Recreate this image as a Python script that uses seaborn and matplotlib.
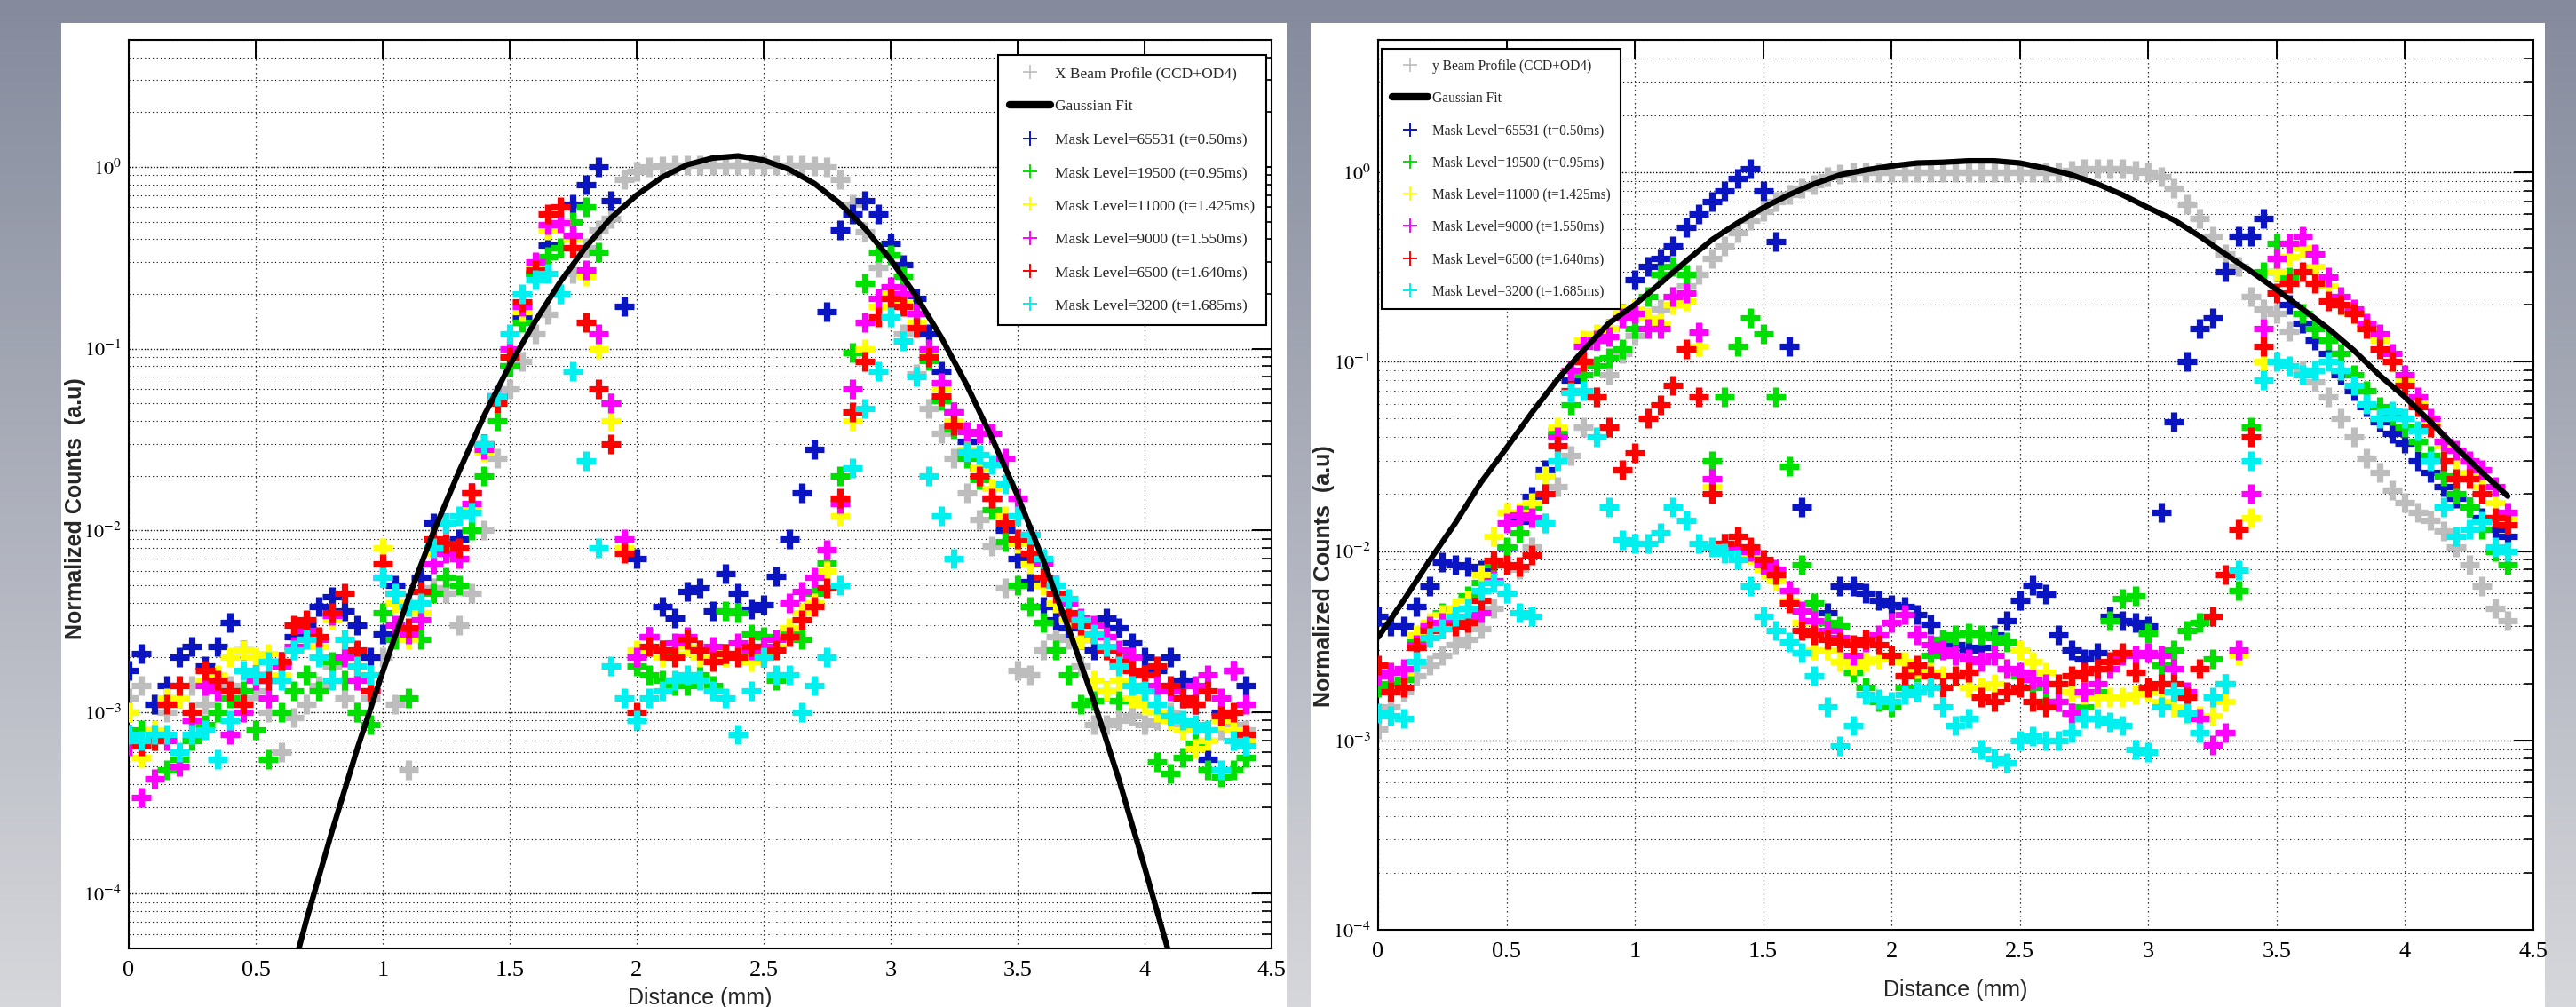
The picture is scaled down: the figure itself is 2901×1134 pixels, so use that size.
import numpy as np
import matplotlib
matplotlib.use("Agg")
import matplotlib.pyplot as plt
from matplotlib.lines import Line2D
from matplotlib.patches import Rectangle
from matplotlib.ticker import LogLocator, FuncFormatter, NullFormatter
import seaborn as sns

nan = np.nan

# ──────────────────────────────────────────────────
# DATA
# ──────────────────────────────────────────────────
distance_mm = [0.0, 0.05, 0.1, 0.15, 0.2, 0.25, 0.3, 0.35, 0.4, 0.45,
               0.5, 0.55, 0.6, 0.65, 0.7, 0.75, 0.8, 0.85, 0.9, 0.95,
               1.0, 1.05, 1.1, 1.15, 1.2, 1.25, 1.3, 1.35, 1.4, 1.45,
               1.5, 1.55, 1.6, 1.65, 1.7, 1.75, 1.8, 1.85, 1.9, 1.95,
               2.0, 2.05, 2.1, 2.15, 2.2, 2.25, 2.3, 2.35, 2.4, 2.45,
               2.5, 2.55, 2.6, 2.65, 2.7, 2.75, 2.8, 2.85, 2.9, 2.95,
               3.0, 3.05, 3.1, 3.15, 3.2, 3.25, 3.3, 3.35, 3.4, 3.45,
               3.5, 3.55, 3.6, 3.65, 3.7, 3.75, 3.8, 3.85, 3.9, 3.95,
               4.0, 4.05, 4.1, 4.15, 4.2, 4.25, 4.3, 4.35, 4.4]

series_labels = ["Mask Level=65531 (t=0.50ms)", "Mask Level=19500 (t=0.95ms)",
                 "Mask Level=11000 (t=1.425ms)", "Mask Level=9000 (t=1.550ms)",
                 "Mask Level=6500 (t=1.640ms)", "Mask Level=3200 (t=1.685ms)"]

x_ticks = [0, 0.5, 1, 1.5, 2, 2.5, 3, 3.5, 4, 4.5]
x_tick_labels = ["0", "0.5", "1", "1.5", "2", "2.5", "3", "3.5", "4", "4.5"]

# --- X profile (left) ---
x_gray = [1.2e-3, 1.4e-3, 1.1e-3, 1.0e-3, 1.2e-3, 1.4e-3, 1.1e-3, 1.3e-3, 1.4e-3, 1.2e-3,
          1.3e-3, 1.0e-3, 6.0e-4, 9.3e-4, 1.1e-3, 1.4e-3, 1.8e-3, 1.2e-3, 1.0e-3, 1.2e-3,
          2.0e-3, 1.1e-3, 4.8e-4, 3.5e-3, 4.8e-3, 4.5e-3, 3.0e-3, 4.5e-3, 1.0e-2, 2.5e-2,
          0.06, 0.085, 0.12, 0.155, 0.2, 0.26, 0.36, 0.45, 0.52, 0.85,
          0.95, 1.0, 1.01, 1.02, 1.02, 1.02, 1.02, 1.02, 1.02, 1.02,
          1.02, 1.02, 1.02, 1.02, 1.01, 1.0, 0.85, 0.62, 0.44, 0.28,
          0.17, 0.12, 0.073, 0.047, 0.034, 0.025, 0.016, 0.0115, 8.2e-3, 4.8e-3,
          1.7e-3, 1.6e-3, 2.2e-3, 2.6e-3, 2.5e-3, 1.8e-3, 8.5e-4, 8.5e-4, 9.0e-4, 9.5e-4,
          8.5e-4, 9.0e-4, 1.0e-3, 8.5e-4, 8.0e-4, 7.0e-4, 8.0e-4, 8.5e-4, 8.0e-4]
x_blue = [1.7e-3, 2.1e-3, 1.1e-3, 1.4e-3, 2.0e-3, 2.3e-3, 1.8e-3, 2.3e-3, 3.1e-3, 2.2e-3,
          1.6e-3, 1.5e-3, 1.9e-3, 2.6e-3, 3.0e-3, 3.8e-3, 4.3e-3, 3.6e-3, 3.0e-3, 2.0e-3,
          2.7e-3, 5.0e-3, 4.0e-3, 5.5e-3, 1.1e-2, 1.1e-2, 9.0e-3, 1.6e-2, 3.0e-2, 5.5e-2,
          0.08, 0.15, 0.26, 0.37, 0.5, 0.62, 0.8, 1.0, 0.65, 0.17,
          7.0e-3, 2.6e-3, 3.8e-3, 3.3e-3, 4.6e-3, 4.8e-3, 3.6e-3, 5.8e-3, 4.5e-3, 3.7e-3,
          3.9e-3, 5.6e-3, 9.0e-3, 1.6e-2, 2.8e-2, 0.16, 0.45, 0.55, 0.65, 0.55,
          0.38, 0.29, 0.19, 0.12, 0.075, 0.045, 0.031, 0.022, 0.015, 0.010,
          7.0e-3, 5.2e-3, 3.8e-3, 3.2e-3, 2.9e-3, 2.5e-3, 2.2e-3, 3.3e-3, 2.9e-3, 2.4e-3,
          2.0e-3, 1.7e-3, 2.0e-3, 1.5e-3, 1.1e-3, 5.5e-4, 1.0e-3, 1.7e-3, 1.4e-3]
x_green = [1.0e-3, 8.0e-4, 7.0e-4, 4.8e-4, 5.5e-4, 7.0e-4, 8.5e-4, 1.0e-3, 1.2e-3, 1.3e-3,
           8.0e-4, 5.5e-4, 1.0e-3, 1.3e-3, 1.6e-3, 1.3e-3, 1.9e-3, 1.5e-3, 1.0e-3, 8.5e-4,
           3.5e-3, 2.5e-3, 1.2e-3, 2.5e-3, 4.5e-3, 5.5e-3, 5.0e-3, 1.0e-2, 2.0e-2, 4.0e-2,
           8.0e-2, 0.14, 0.26, 0.32, 0.36, 0.5, 0.6, 0.34, 0.05, nan,
           1.8e-3, 1.6e-3, 1.5e-3, 1.4e-3, 1.4e-3, 1.6e-3, 1.4e-3, 3.6e-3, 3.5e-3, 2.7e-3,
           2.6e-3, 1.5e-3, 2.8e-3, 2.5e-3, 4.5e-3, 6.6e-3, 2.0e-2, 9.5e-2, 0.23, 0.34,
           0.33, 0.25, 0.156, 0.086, 0.052, 0.036, 0.025, 0.019, 0.013, 8.7e-3,
           5.0e-3, 3.8e-3, 3.1e-3, 2.2e-3, 1.6e-3, 1.1e-3, 1.15e-3, 1.3e-3, 1.15e-3, 1.4e-3,
           1.3e-3, 5.3e-4, 4.6e-4, 5.6e-4, 6.7e-4, 4.8e-4, 4.4e-4, 4.8e-4, 5.6e-4]
x_yellow = [1.0e-3, 5.6e-4, 8.0e-4, 1.2e-3, 1.2e-3, 1.0e-3, 1.5e-3, 1.6e-3, 2.0e-3, 2.2e-3,
            2.0e-3, 2.1e-3, 1.6e-3, 2.2e-3, 2.5e-3, 2.3e-3, 3.2e-3, 2.5e-3, 1.8e-3, 1.6e-3,
            8.0e-3, 4.0e-3, 2.5e-3, 3.5e-3, 7.5e-3, 8.0e-3, 7.0e-3, 1.3e-2, 2.7e-2, 5.0e-2,
            0.09, 0.16, 0.28, 0.45, 0.5, 0.4, 0.25, 0.1, 0.04, 8.0e-3,
            2.2e-3, 2.3e-3, 2.0e-3, 2.1e-3, 2.3e-3, 2.0e-3, 2.2e-3, 2.0e-3, 2.1e-3, 1.9e-3,
            2.1e-3, 2.3e-3, 2.9e-3, 3.5e-3, 4.0e-3, 6.0e-3, 1.2e-2, 4.0e-2, 0.1, 0.17,
            0.2, 0.18, 0.14, 0.095, 0.06, 0.04, 0.028, 0.022, 0.017, 0.012,
            8.5e-3, 6.5e-3, 5.0e-3, 4.0e-3, 3.2e-3, 2.5e-3, 1.5e-3, 1.3e-3, 1.5e-3, 1.2e-3,
            1.1e-3, 1.0e-3, 9.0e-4, 8.0e-4, 6.3e-4, 7.0e-4, 9.0e-4, 8.0e-4, 7.0e-4]
x_magenta = [6.5e-4, 3.4e-4, 4.3e-4, 7.0e-4, 5.0e-4, 9.0e-4, 1.4e-3, 1.3e-3, 7.5e-4, 1.0e-3,
             1.5e-3, 1.2e-3, 1.8e-3, 2.3e-3, 2.8e-3, 2.5e-3, 3.4e-3, 2.0e-3, 1.5e-3, 1.3e-3,
             5.5e-3, 3.0e-3, 2.7e-3, 3.2e-3, 6.5e-3, 7.5e-3, 7.0e-3, 1.4e-2, 2.8e-2, 5.5e-2,
             0.1, 0.17, 0.3, 0.48, 0.49, 0.42, 0.27, 0.12, 0.05, 9.0e-3,
             2.0e-3, 2.6e-3, 2.2e-3, 2.4e-3, 2.6e-3, 2.2e-3, 2.3e-3, 2.1e-3, 2.4e-3, 2.2e-3,
             2.3e-3, 2.5e-3, 4.0e-3, 4.6e-3, 5.5e-3, 7.8e-3, 1.4e-2, 6.0e-2, 0.14, 0.19,
             0.22, 0.2, 0.156, 0.1, 0.065, 0.045, 0.035, 0.034, 0.034, 0.025,
             0.015, 9.5e-3, 6.6e-3, 5.0e-3, 4.0e-3, 3.3e-3, 3.0e-3, 2.6e-3, 2.2e-3, 2.0e-3,
             1.6e-3, 1.4e-3, 1.3e-3, 1.2e-3, 1.4e-3, 1.6e-3, 1.2e-3, 1.7e-3, 1.1e-3]
x_red = [7.5e-4, 6.5e-4, 7.0e-4, 1.1e-3, 1.4e-3, 1.0e-3, 1.7e-3, 1.5e-3, 1.3e-3, 1.1e-3,
         1.6e-3, 1.5e-3, 1.9e-3, 3.0e-3, 3.2e-3, 2.6e-3, 3.5e-3, 4.5e-3, 2.2e-3, 1.3e-3,
         6.5e-3, 4.5e-3, 2.9e-3, 4.6e-3, 9.0e-3, 8.5e-3, 8.0e-3, 1.6e-2, 3.0e-2, 5.0e-2,
         0.09, 0.18, 0.27, 0.55, 0.6, 0.36, 0.14, 0.06, 0.03, 7.5e-3,
         1.0e-3, 2.3e-3, 2.2e-3, 2.0e-3, 2.5e-3, 2.2e-3, 1.9e-3, 2.1e-3, 2.0e-3, 2.3e-3,
         2.0e-3, 2.2e-3, 2.6e-3, 3.2e-3, 3.8e-3, 4.8e-3, 1.5e-2, 4.5e-2, 8.5e-2, 0.15,
         0.19, 0.17, 0.13, 0.09, 0.055, 0.038, 0.027, 0.02, 0.015, 0.011,
         9.0e-3, 7.5e-3, 5.5e-3, 4.5e-3, 3.5e-3, 3.0e-3, 2.7e-3, 2.2e-3, 1.9e-3, 1.7e-3,
         1.6e-3, 1.8e-3, 1.4e-3, 1.2e-3, 1.1e-3, 1.3e-3, 9.5e-4, 1.0e-3, 7.5e-4]
x_cyan = [7.5e-4, 7.0e-4, 7.5e-4, 7.5e-4, 6.0e-4, 7.5e-4, 8.0e-4, 5.5e-4, 9.0e-4, 1.7e-3,
          1.6e-3, 1.9e-3, 1.5e-3, 2.2e-3, 2.5e-3, 2.0e-3, 1.5e-3, 2.5e-3, 1.8e-3, 1.6e-3,
          5.5e-3, 4.5e-3, 3.8e-3, 4.0e-3, 8.0e-3, 1.1e-2, 1.2e-2, 1.25e-2, 3.0e-2, 5.5e-2,
          0.12, 0.2, 0.24, 0.26, 0.2, 0.075, 0.024, 8.0e-3, 1.8e-3, 1.2e-3,
          9.0e-4, 1.2e-3, 1.3e-3, 1.5e-3, 1.6e-3, 1.5e-3, 1.3e-3, 1.2e-3, 7.5e-4, 1.3e-3,
          2.0e-3, 1.6e-3, 1.6e-3, 1.0e-3, 1.4e-3, 2.0e-3, 5.0e-3, 2.2e-2, 4.7e-2, 7.5e-2,
          0.15, 0.11, 0.07, 0.02, 0.012, 7.0e-3, 0.027, 0.026, 0.023, 0.018,
          0.012, 9.5e-3, 7.0e-3, 5.0e-3, 4.2e-3, 3.2e-3, 2.7e-3, 2.3e-3, 1.8e-3, 1.4e-3,
          1.3e-3, 1.1e-3, 9.5e-4, 9.0e-4, 8.5e-4, 8.0e-4, 4.8e-4, 7.0e-4, 6.5e-4]

x_fit_pos = [0.67, 0.7, 0.8, 0.9, 1.0, 1.1, 1.2, 1.3, 1.4, 1.5,
             1.6, 1.7, 1.8, 1.9, 2.0, 2.1, 2.2, 2.3, 2.4, 2.5,
             2.6, 2.7, 2.8, 2.9, 3.0, 3.1, 3.2, 3.3, 3.4, 3.5,
             3.6, 3.7, 3.8, 3.9, 4.0, 4.1]
x_fit = [5.0e-5, 7.2e-5, 2.2e-4, 6.3e-4, 1.66e-3, 4.2e-3, 9.8e-3, 0.021, 0.043, 0.081,
         0.141, 0.234, 0.363, 0.525, 0.70, 0.877, 1.03, 1.12, 1.15, 1.09,
         0.97, 0.81, 0.63, 0.457, 0.309, 0.195, 0.115, 0.063, 0.032, 0.0155,
         6.9e-3, 2.9e-3, 1.15e-3, 4.2e-4, 1.4e-4, 4.5e-5]

# --- y profile (right) ---
y_gray = [1.15e-3, 1.5e-3, 1.8e-3, 2.2e-3, 2.5e-3, 2.8e-3, 3.2e-3, 3.4e-3, 3.9e-3, 5.0e-3,
          6.0e-3, 8.0e-3, 1.05e-2, 1.4e-2, 2.2e-2, 3.2e-2, 4.5e-2, 6.5e-2, 8.5e-2, 0.11,
          0.137, 0.17, 0.19, 0.22, 0.25, 0.29, 0.35, 0.41, 0.48, 0.56,
          0.62, 0.7, 0.76, 0.82, 0.86, 0.95, 0.98, 1.0, 1.0, 1.0,
          1.0, 1.0, 1.0, 1.0, 1.0, 1.0, 1.0, 1.0, 1.0, 1.0,
          1.0, 1.0, 1.0, 1.0, 1.02, 1.04, 1.05, 1.05, 1.05, 1.02,
          1.0, 0.95, 0.82, 0.68, 0.57, 0.46, 0.37, 0.32, 0.22, 0.19,
          0.18, 0.145, 0.09, 0.078, 0.065, 0.05, 0.04, 0.031, 0.026, 0.021,
          0.018, 0.016, 0.0145, 0.0128, 0.0105, 8.5e-3, 6.5e-3, 5.0e-3, 4.3e-3]
y_blue = [4.5e-3, 4.0e-3, 4.0e-3, 5.1e-3, 6.5e-3, 8.7e-3, 8.5e-3, 8.3e-3, 7.9e-3, 8.5e-3,
          1.04e-2, 1.44e-2, 1.95e-2, 2.7e-2, 4.1e-2, 8.0e-2, 0.1, 0.13, 0.15, 0.18,
          0.27, 0.32, 0.35, 0.41, 0.51, 0.6, 0.7, 0.8, 0.93, 1.04,
          0.8, 0.43, 0.12, 0.017, nan, 4.7e-3, 6.5e-3, 6.5e-3, 6.0e-3, 5.5e-3,
          5.2e-3, 5.1e-3, 4.6e-3, 4.1e-3, 3.4e-3, 3.2e-3, 3.0e-3, 3.1e-3, 3.6e-3, 4.3e-3,
          5.5e-3, 6.6e-3, 5.9e-3, 3.6e-3, 3.0e-3, 2.7e-3, 2.9e-3, 4.5e-3, 4.3e-3, 4.2e-3,
          4.0e-3, 1.6e-2, 4.8e-2, 0.1, 0.15, 0.17, 0.3, 0.46, 0.46, 0.57,
          0.3, 0.2, 0.16, 0.13, 0.11, 0.085, 0.07, 0.058, 0.048, 0.042,
          0.037, 0.03, 0.026, 0.022, 0.019, 0.017, 0.015, 0.013, 0.012]
y_green = [1.9e-3, 2.0e-3, 2.1e-3, 3.3e-3, 3.9e-3, 4.7e-3, 5.0e-3, 5.8e-3, 6.8e-3, 8.5e-3,
           1.05e-2, 1.25e-2, 1.7e-2, 2.5e-2, 4.3e-2, 5.9e-2, 8.5e-2, 9.5e-2, 0.105, 0.117,
           0.15, 0.22, 0.29, 0.32, 0.29, nan, 0.03, 0.065, 0.12, 0.17,
           0.14, 0.065, 0.028, 8.5e-3, 5.3e-3, 4.2e-3, 4.0e-3, 2.3e-3, 1.9e-3, 1.6e-3,
           1.5e-3, 1.9e-3, 2.3e-3, 2.8e-3, 3.4e-3, 3.6e-3, 3.7e-3, 3.6e-3, 3.5e-3, 3.3e-3,
           2.2e-3, 1.9e-3, 1.6e-3, 1.6e-3, 1.4e-3, 1.5e-3, 1.8e-3, 4.3e-3, 5.6e-3, 5.8e-3,
           3.7e-3, 2.5e-3, 3.0e-3, 3.8e-3, 4.2e-3, 2.7e-3, 2.0e-3, 6.2e-3, 4.5e-2, 0.3,
           0.42, 0.28, 0.18, 0.15, 0.13, 0.11, 0.085, 0.07, 0.058, 0.052,
           0.045, 0.038, 0.032, 0.025, 0.02, 0.017, 0.013, 0.01, 8.5e-3]
y_yellow = [2.4e-3, 2.3e-3, 2.3e-3, 3.6e-3, 4.2e-3, 4.6e-3, 5.0e-3, 5.5e-3, 7.5e-3, 1.2e-2,
            1.6e-2, 1.6e-2, 1.8e-2, 2.5e-2, 4.5e-2, 9.0e-2, 0.13, 0.14, 0.15, 0.18,
            0.19, 0.17, 0.16, 0.2, 0.21, 0.12, 0.022, 0.011, 0.01, 9.5e-3,
            8.0e-3, 7.0e-3, 5.5e-3, 4.2e-3, 3.0e-3, 3.0e-3, 2.6e-3, 2.5e-3, 2.6e-3, 2.7e-3,
            2.8e-3, 2.6e-3, 2.4e-3, 2.3e-3, 2.2e-3, 2.2e-3, 1.9e-3, 1.9e-3, 2.0e-3, 2.4e-3,
            3.0e-3, 2.6e-3, 2.3e-3, 2.0e-3, 1.8e-3, 1.75e-3, 1.7e-3, 1.7e-3, 1.7e-3, 1.75e-3,
            1.8e-3, 1.6e-3, 1.5e-3, 1.4e-3, 1.35e-3, 1.35e-3, 1.6e-3, 2.8e-3, 1.5e-2, 0.1,
            0.3, 0.36, 0.4, 0.32, 0.25, 0.2, 0.18, 0.15, 0.13, 0.1,
            0.08, 0.062, 0.048, 0.036, 0.03, 0.026, 0.022, 0.018, 0.015]
y_magenta = [2.2e-3, 2.3e-3, 2.4e-3, 3.2e-3, 4.0e-3, 4.2e-3, 4.3e-3, 4.5e-3, 4.7e-3, 7.0e-3,
             1.4e-2, 1.55e-2, 1.5e-2, 2.0e-2, 4.0e-2, 9.0e-2, 0.12, 0.13, 0.135, 0.17,
             0.18, 0.15, 0.15, 0.22, 0.23, 0.144, 0.024, 0.011, 0.0105, 0.01,
             8.5e-3, 8.0e-3, 6.2e-3, 4.8e-3, 4.3e-3, 3.8e-3, 3.5e-3, 2.8e-3, 3.3e-3, 3.6e-3,
             4.2e-3, 4.6e-3, 3.6e-3, 3.2e-3, 3.0e-3, 2.8e-3, 2.7e-3, 2.6e-3, 2.8e-3, 2.4e-3,
             2.3e-3, 2.1e-3, 2.0e-3, 1.6e-3, 1.4e-3, 1.8e-3, 2.0e-3, 2.4e-3, 2.8e-3, 2.8e-3,
             2.9e-3, 2.8e-3, 2.4e-3, 1.8e-3, 1.3e-3, 9.5e-4, 1.1e-3, 3.0e-3, 2.0e-2, 0.15,
             0.35, 0.42, 0.46, 0.37, 0.28, 0.22, 0.19, 0.16, 0.14, 0.11,
             0.085, 0.065, 0.05, 0.038, 0.034, 0.03, 0.027, 0.022, 0.016]
y_red = [2.5e-3, 1.8e-3, 1.9e-3, 3.1e-3, 3.8e-3, 3.9e-3, 4.0e-3, 4.2e-3, 5.5e-3, 8.9e-3,
         8.5e-3, 8.3e-3, 9.5e-3, 2.0e-2, 3.6e-2, 7.0e-2, 0.1, 0.065, 0.045, 0.027,
         0.033, 0.05, 0.059, 0.075, 0.117, 0.065, 0.02, 0.011, 0.012, 0.0105,
         9.0e-3, 7.5e-3, 5.3e-3, 3.8e-3, 3.6e-3, 3.4e-3, 3.3e-3, 3.2e-3, 3.4e-3, 3.2e-3,
         2.8e-3, 2.2e-3, 2.5e-3, 2.2e-3, 1.9e-3, 2.2e-3, 2.3e-3, 1.7e-3, 1.6e-3, 1.8e-3,
         1.9e-3, 1.6e-3, 1.5e-3, 2.0e-3, 2.2e-3, 2.3e-3, 2.4e-3, 2.6e-3, 2.9e-3, 2.3e-3,
         1.9e-3, 2.0e-3, 2.0e-3, 1.7e-3, 2.4e-3, 4.5e-3, 7.5e-3, 1.3e-2, 4.0e-2, 0.12,
         0.23, 0.26, 0.3, 0.26, 0.21, 0.2, 0.18, 0.15, 0.117, 0.1,
         0.075, 0.058, 0.045, 0.03, 0.024, 0.024, 0.02, 0.015, 0.0137]
y_cyan = [1.4e-3, 1.35e-3, 1.3e-3, 2.6e-3, 3.5e-3, 3.9e-3, 4.5e-3, 5.0e-3, 6.2e-3, 6.8e-3,
          6.0e-3, 4.7e-3, 4.5e-3, 1.4e-2, 3.0e-2, 6.9e-2, 7.0e-2, 4.0e-2, 1.7e-2, 1.15e-2,
          1.1e-2, 1.1e-2, 1.25e-2, 1.7e-2, 1.45e-2, 1.1e-2, 1.05e-2, 9.7e-3, 9.0e-3, 6.5e-3,
          4.5e-3, 3.8e-3, 3.3e-3, 2.9e-3, 2.2e-3, 1.5e-3, 9.3e-4, 1.2e-3, 1.75e-3, 1.65e-3,
          1.6e-3, 1.75e-3, 1.8e-3, 1.9e-3, 1.5e-3, 1.2e-3, 1.3e-3, 9.0e-4, 8.0e-4, 7.6e-4,
          1.0e-3, 1.05e-3, 1.0e-3, 1.0e-3, 1.1e-3, 1.3e-3, 1.3e-3, 1.25e-3, 1.2e-3, 9.0e-4,
          8.7e-4, 1.5e-3, 1.8e-3, 1.4e-3, 1.1e-3, 1.7e-3, 2.0e-3, 7.9e-3, 3.0e-2, 8.0e-2,
          0.1, 0.095, 0.085, 0.09, 0.1, 0.09, 0.075, 0.06, 0.05, 0.055,
          0.05, 0.043, 0.03, 0.017, 0.012, 0.013, 0.0144, 0.0105, 0.01]

y_fit_pos = [0.0, 0.1, 0.2, 0.3, 0.4, 0.5, 0.6, 0.7, 0.8, 0.9,
             1.0, 1.1, 1.2, 1.3, 1.4, 1.5, 1.6, 1.7, 1.8, 1.9,
             2.0, 2.1, 2.2, 2.3, 2.4, 2.5, 2.6, 2.7, 2.8, 2.9,
             3.0, 3.1, 3.2, 3.3, 3.4, 3.5, 3.6, 3.7, 3.8, 3.9,
             4.0, 4.1, 4.2, 4.3, 4.4]
y_fit = [3.5e-3, 5.5e-3, 8.9e-3, 0.014, 0.023, 0.035, 0.054, 0.081, 0.115, 0.16,
         0.2, 0.26, 0.34, 0.44, 0.54, 0.65, 0.76, 0.87, 0.97, 1.03,
         1.08, 1.12, 1.13, 1.15, 1.15, 1.12, 1.05, 0.97, 0.87, 0.76,
         0.65, 0.56, 0.46, 0.37, 0.30, 0.24, 0.19, 0.15, 0.115, 0.085,
         0.065, 0.048, 0.035, 0.026, 0.0195]

# ──────────────────────────────────────────────────
# STYLE
# ──────────────────────────────────────────────────
GRAY = "#bdbdbd"
MASK_COLORS = ["#0a14c0", "#00e000", "#ffff00", "#ff00ff", "#ff0000", "#00f0f0"]
SANS = ["Liberation Sans", "DejaVu Sans"]
SERIF = ["Liberation Serif", "DejaVu Serif"]
MARKER_S = 230
MARKER_LW = 5.2

sns.set_theme(style="white")
plt.rcParams["font.family"] = SERIF
plt.rcParams["mathtext.fontset"] = "stix"
plt.rcParams["xtick.labelsize"] = 19
plt.rcParams["ytick.labelsize"] = 16

fig = plt.figure(figsize=(29.01, 11.34), dpi=100)

# slide backdrop + the two white picture panels
bg = fig.add_axes([0, 0, 1, 1], zorder=-10)
t = np.linspace(0, 1, 256)[:, None, None]
top_c = np.array([133, 139, 157]) / 255
bot_c = np.array([214, 215, 219]) / 255
bg.imshow(top_c + (bot_c - top_c) * t, aspect="auto", extent=[0, 1, 0, 1])
bg.axis("off")
for x0, w in [(0.02379, 0.47570), (0.50879, 0.47915)]:
    fig.add_artist(Rectangle((x0, 0), w, 0.97707, transform=fig.transFigure,
                             facecolor="white", edgecolor="none", zorder=-5))


def draw_panel(ax, beam, masks, fit_x, fit_y, ylim, beam_label, leg_cfg, ylab_xy, xlab_y):
    ax.set_yscale("log")
    ax.set_xlim(0, 4.5)
    ax.set_ylim(*ylim)
    ax.set_facecolor("white")
    ax.set_axisbelow(True)

    sns.scatterplot(x=distance_mm, y=beam, ax=ax, marker="+", s=MARKER_S,
                    linewidth=MARKER_LW, color=GRAY, zorder=2, legend=False)
    for i, (vals, c) in enumerate(zip(masks, MASK_COLORS)):
        sns.scatterplot(x=distance_mm, y=vals, ax=ax, marker="+", s=MARKER_S,
                        linewidth=MARKER_LW, color=c, zorder=3 + i, legend=False)
    sns.lineplot(x=fit_x, y=fit_y, ax=ax, color="black", linewidth=4.5,
                 estimator=None, sort=False, zorder=10)

    ax.set_xticks(x_ticks, x_tick_labels)
    ax.yaxis.set_major_locator(LogLocator(base=10, numticks=15))
    ax.yaxis.set_minor_locator(LogLocator(base=10, subs=np.arange(2, 10), numticks=15))
    ax.yaxis.set_major_formatter(FuncFormatter(lambda v, _: rf"$10^{{{int(round(np.log10(v)))}}}$"))
    ax.yaxis.set_minor_formatter(NullFormatter())

    ax.grid(True, which="major", axis="x", color="black", lw=0.9, ls=(0, (1, 3)))
    ax.grid(True, which="major", axis="y", color="black", lw=1.0, ls=(0, (1, 1.5)))
    ax.grid(True, which="minor", axis="y", color="black", lw=0.8, ls=(0, (1, 3)))
    ax.tick_params(which="both", direction="in", top=True, right=True, colors="black")
    ax.tick_params(which="major", length=16, width=1.4)
    ax.tick_params(which="minor", length=8, width=1.2)
    ax.tick_params(axis="x", pad=10)
    ax.tick_params(axis="y", pad=6)
    for sp in ax.spines.values():
        sp.set_color("black")
        sp.set_linewidth(1.5)

    ax.set_xlabel("Distance (mm)", fontsize=18, family=SANS, va="top")
    ax.xaxis.set_label_coords(0.5, xlab_y)
    ax.set_ylabel("Normalized Counts  (a.u)", fontsize=18, fontweight="bold", family=SANS)
    ax.yaxis.label.set_verticalalignment("center")
    ax.yaxis.set_label_coords(*ylab_xy)

    handles = [Line2D([], [], ls="none", marker="+", color=GRAY, ms=11, mew=1.2),
               Line2D([], [], color="black", lw=6)]
    handles += [Line2D([], [], ls="none", marker="+", color=c, ms=11, mew=1.4)
                for c in MASK_COLORS]
    labels = [beam_label, "Gaussian Fit"] + series_labels
    leg = ax.legend(handles, labels, loc=leg_cfg["loc"], bbox_to_anchor=leg_cfg["anchor"],
                    borderaxespad=0, prop={"family": SERIF, "size": leg_cfg["size"]},
                    frameon=True, fancybox=False, framealpha=1, edgecolor="black",
                    labelspacing=leg_cfg["spacing"], handlelength=2.6,
                    handletextpad=0.3, borderpad=0.75)
    leg.get_frame().set_linewidth(1.5)
    leg.set_zorder(20)


ax_x = fig.add_axes([0.04998, 0.05820, 0.44364, 0.90212])
ax_y = fig.add_axes([0.53499, 0.07672, 0.44846, 0.88360])

draw_panel(ax_x, x_gray, [x_blue, x_green, x_yellow, x_magenta, x_red, x_cyan],
           x_fit_pos, x_fit, (5e-5, 5), "X Beam Profile (CCD+OD4)",
           {"loc": "upper right", "anchor": (0.9953, 0.9834), "size": 12.5, "spacing": 1.22},
           (-0.0465, 0.484), -0.043)
draw_panel(ax_y, y_gray, [y_blue, y_green, y_yellow, y_magenta, y_red, y_cyan],
           y_fit_pos, y_fit, (1e-4, 5), "y Beam Profile (CCD+OD4)",
           {"loc": "upper left", "anchor": (0.003, 0.99), "size": 11.2, "spacing": 1.3},
           (-0.047, 0.398), -0.056)

fig.savefig("out.png", dpi=100)
